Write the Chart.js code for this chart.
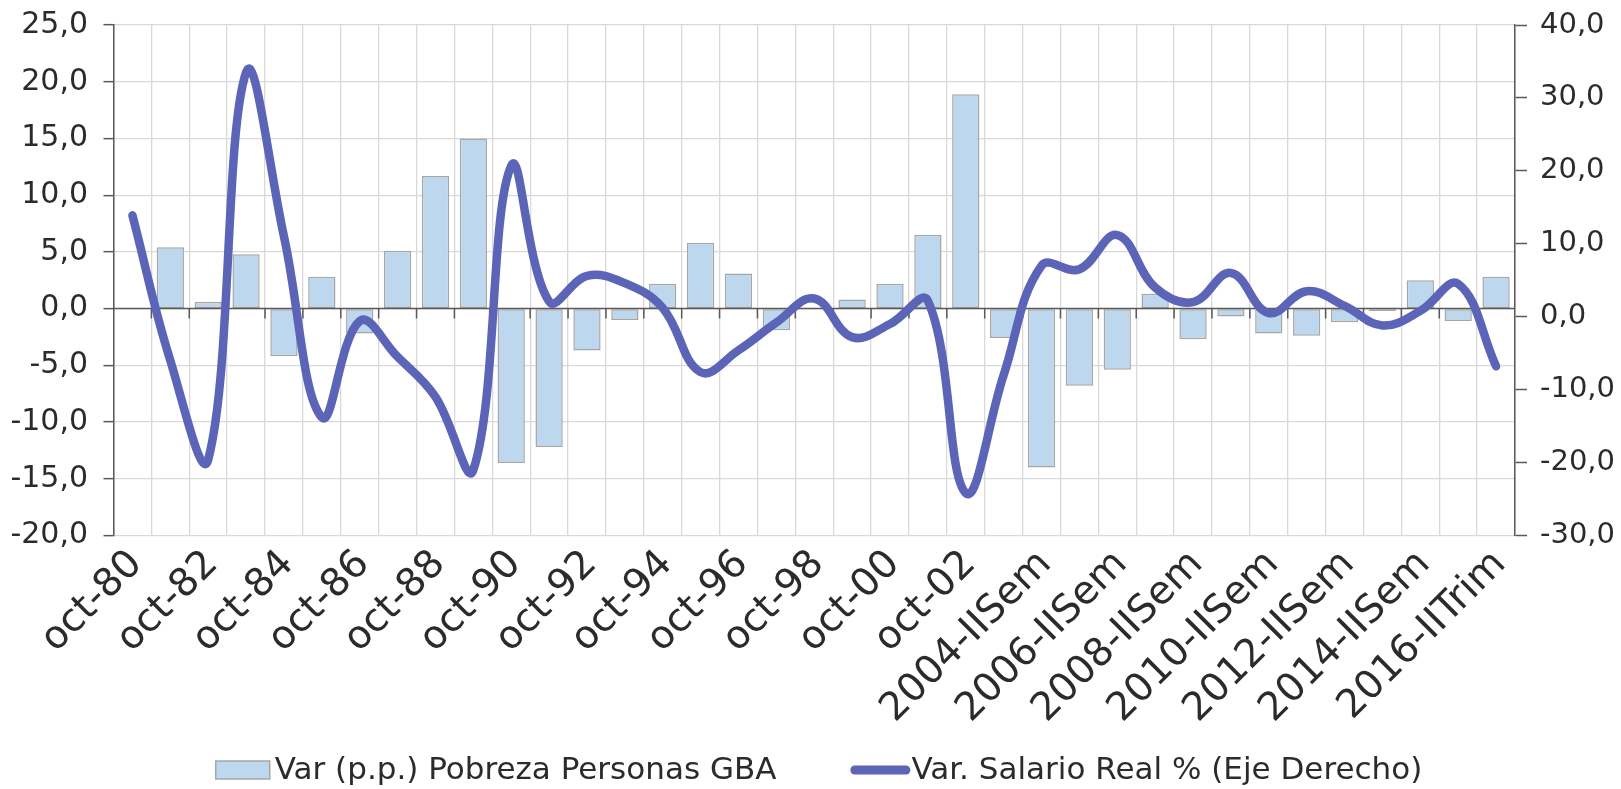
<!DOCTYPE html>
<html lang="es">
<head>
<meta charset="utf-8">
<title>Pobreza y salario real</title>
<script src="https://cdn.jsdelivr.net/npm/chart.js@4.4.1/dist/chart.umd.min.js"></script>
<style>
  html, body { margin: 0; padding: 0; background: #fff; }
  #caja { width: 1621px; height: 789px; }
</style>
</head>
<body>
<div id="caja"><canvas id="grafico"></canvas></div>
<script>
// Categorías (solo se ven una sí y una no)
const categorias = [
  'oct-80','oct-81','oct-82','oct-83','oct-84','oct-85','oct-86','oct-87','oct-88','oct-89',
  'oct-90','oct-91','oct-92','oct-93','oct-94','oct-95','oct-96','oct-97','oct-98','oct-99',
  'oct-00','oct-01','oct-02','2003-IISem','2004-IISem','2005-IISem','2006-IISem','2007-IISem',
  '2008-IISem','2009-IISem','2010-IISem','2011-IISem','2012-IISem','2013-IISem','2014-IISem',
  '2015-ISem','2016-IITrim'
];

// Var (p.p.) Pobreza Personas GBA  -> eje izquierdo
const pobreza = [
  null, 5.4, 0.6, 4.8, -4.2, 2.8, -2.2, 5.1, 11.7, 15.0,
  -13.6, -12.2, -3.7, -1.0, 2.2, 5.8, 3.1, -1.9, 0.0, 0.8,
  2.2, 6.5, 18.9, -2.6, -14.0, -6.8, -5.4, 1.3, -2.7, -0.7,
  -2.2, -2.4, -1.2, -0.2, 2.5, -1.1, 2.8
];

// Var. Salario Real % -> eje derecho
const salario = [
  13.9, -6.0, -19.6, 33.5, 11.0, -13.8, -0.6, -5.5, -11.0, -21.0,
  20.7, 2.1, 5.6, 4.6, 1.2, -7.6, -4.6, -0.8, 2.5, -2.8,
  -1.0, 2.2, -24.2, -8.0, 7.0, 6.5, 11.2, 4.0, 2.0, 6.0,
  0.5, 3.5, 1.5, -1.2, 0.8, 4.5, -6.8
];

const etiquetasLeyenda = ['Var (p.p.) Pobreza Personas GBA', 'Var. Salario Real % (Eje Derecho)'];

const colorBarra = '#BDD7EE';
const bordeBarra = '#A6A6A6';
const colorLinea = '#5C64B8';
const colorEje = '#595959';
const colorGrilla = '#D9D9D9';
const colorTexto = '#2B2B2B';
const fuente = '"DejaVu Sans", sans-serif';

const coma = v => v.toFixed(1).replace('.', ',');

// linea del cero con sus marquitas, arriba de las barras y abajo de la linea
const ejeCero = {
  id: 'ejeCero',
  afterDatasetDraw(chart, args) {
    if (args.index !== 0) return;
    const {ctx, chartArea, scales} = chart;
    const y0 = scales.y.getPixelForValue(0);
    const paso = scales.x.getPixelForValue(1) - scales.x.getPixelForValue(0);
    ctx.save();
    ctx.strokeStyle = colorEje;
    ctx.lineWidth = 1.5;
    ctx.beginPath();
    ctx.moveTo(chartArea.left, y0);
    ctx.lineTo(chartArea.right, y0);
    for (let i = 1; i < categorias.length; i++) {
      const x = scales.x.getPixelForValue(i) - paso / 2;
      ctx.moveTo(x, y0);
      ctx.lineTo(x, y0 + 10);
    }
    ctx.stroke();
    ctx.restore();
  }
};

// leyenda a mano para poder separar los items como en el original
const leyenda = {
  id: 'leyenda',
  afterDraw(chart) {
    const {ctx} = chart;
    ctx.save();
    ctx.font = '31px ' + fuente;
    ctx.textBaseline = 'middle';
    const y = 770, ancho = 54, sep = 5, entre = 74;
    const w = etiquetasLeyenda.map(t => ctx.measureText(t).width);
    const total = ancho * 2 + sep * 2 + w[0] + w[1] + entre;
    let x = 818 - total / 2;
    // item barras
    ctx.fillStyle = colorBarra;
    ctx.fillRect(x, y - 9, ancho, 18);
    ctx.strokeStyle = bordeBarra;
    ctx.lineWidth = 1.5;
    ctx.strokeRect(x, y - 9, ancho, 18);
    ctx.fillStyle = colorTexto;
    ctx.fillText(etiquetasLeyenda[0], x + ancho + sep, y + 1);
    x += ancho + sep + w[0] + entre;
    // item linea
    ctx.strokeStyle = colorLinea;
    ctx.lineWidth = 9;
    ctx.lineCap = 'round';
    ctx.beginPath();
    ctx.moveTo(x + 4.5, y);
    ctx.lineTo(x + ancho + 1.5, y);
    ctx.stroke();
    ctx.fillText(etiquetasLeyenda[1], x + ancho + sep + 2, y + 1);
    ctx.restore();
  }
};

// los ejes verticales no deben correr el area del grafico hacia abajo
function sinRelleno(scale, ancho) {
  scale.width = ancho;
  scale.paddingTop = 0;
  scale.paddingBottom = 0;
}

new Chart(document.getElementById('grafico'), {
  type: 'bar',
  data: {
    labels: categorias,
    datasets: [
      {
        label: etiquetasLeyenda[0],
        data: pobreza,
        yAxisID: 'y',
        backgroundColor: colorBarra,
        borderColor: bordeBarra,
        borderWidth: 1.5,
        borderSkipped: false,
        categoryPercentage: 1,
        barPercentage: 0.72,
        order: 2
      },
      {
        type: 'line',
        label: etiquetasLeyenda[1],
        data: salario,
        yAxisID: 'y1',
        borderColor: colorLinea,
        backgroundColor: colorLinea,
        borderWidth: 8.5,
        borderCapStyle: 'round',
        borderJoinStyle: 'round',
        pointRadius: 0,
        tension: 0.4,
        order: 1
      }
    ]
  },
  options: {
    responsive: true,
    maintainAspectRatio: false,
    devicePixelRatio: 1,
    animation: false,
    layout: { padding: { top: 25, left: 0, right: 0, bottom: 0 } },
    plugins: { legend: { display: false }, tooltip: { enabled: false } },
    scales: {
      x: {
        offset: true,
        grid: { color: colorGrilla, lineWidth: 1.3, drawTicks: false, offset: true },
        border: { display: false },
        ticks: {
          autoSkip: false,
          maxRotation: 45,
          minRotation: 45,
          padding: 6,
          labelOffset: 4,
          color: colorTexto,
          font: { family: fuente, size: 39 },
          callback(v, i) { return i % 2 === 0 ? this.getLabelForValue(v) : ''; }
        },
        afterFit(scale) { scale.height = 789 - 535.5; }
      },
      y: {
        position: 'left',
        min: -20, max: 25,
        grid: { color: colorGrilla, lineWidth: 1.3, tickColor: colorEje, tickLength: 10, tickWidth: 1.5 },
        border: { color: colorEje, width: 1.5 },
        ticks: {
          stepSize: 5, padding: 15.5, color: colorTexto,
          font: { family: fuente, size: 30 },
          callback: v => coma(v)
        },
        afterFit(scale) { sinRelleno(scale, 113.5); }
      },
      y1: {
        position: 'right',
        min: -30, max: 40,
        grid: { drawOnChartArea: false, tickColor: colorEje, tickLength: 12, tickWidth: 1.5 },
        border: { color: colorEje, width: 1.5 },
        ticks: {
          stepSize: 10, padding: 13, color: colorTexto,
          font: { family: fuente, size: 29 },
          callback: v => coma(v)
        },
        afterFit(scale) { sinRelleno(scale, 1621 - 1515); }
      }
    }
  },
  plugins: [ejeCero, leyenda]
});
</script>
</body>
</html>
